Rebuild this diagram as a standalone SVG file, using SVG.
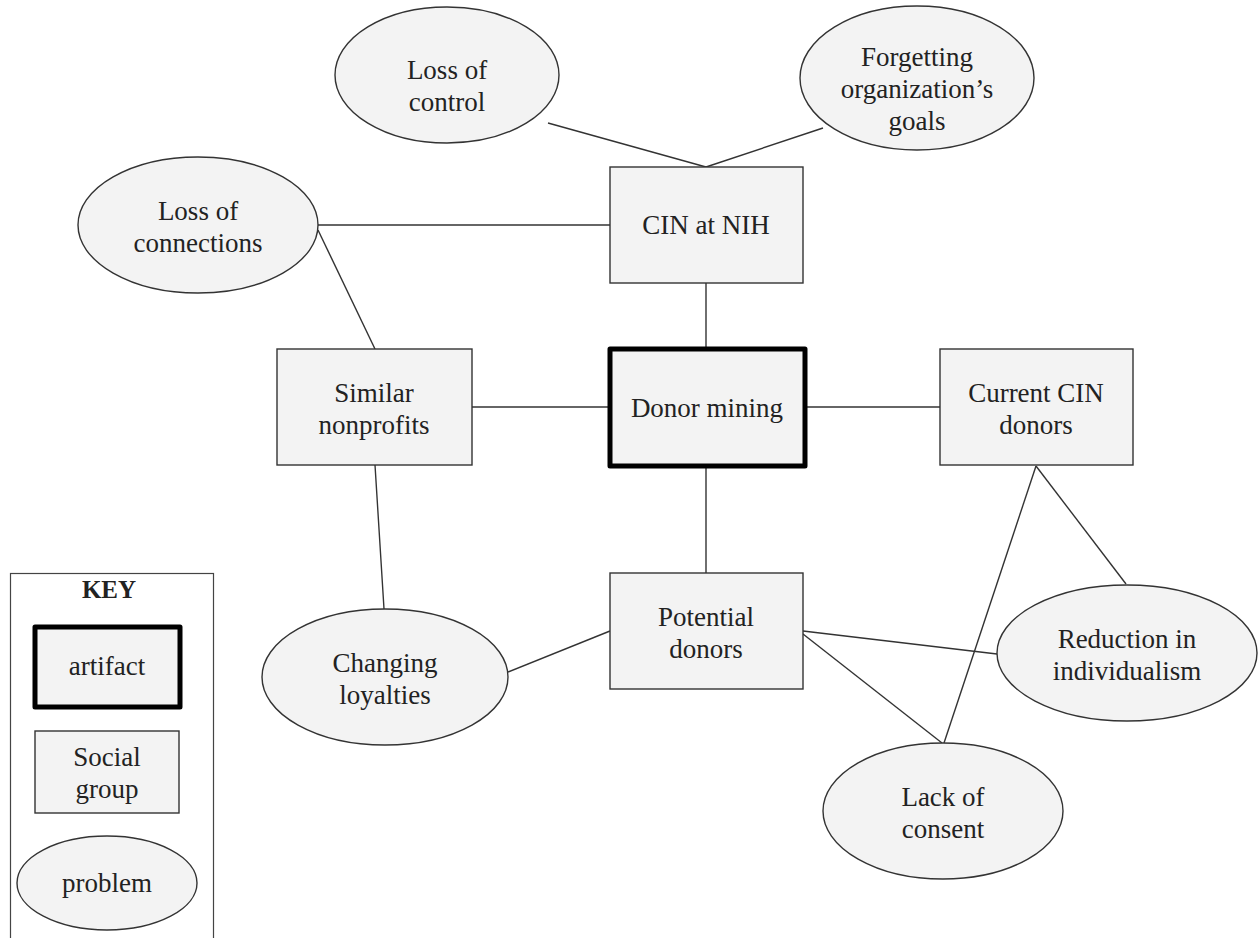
<svg xmlns="http://www.w3.org/2000/svg" width="1259" height="938" viewBox="0 0 1259 938">
<style>
.n{fill:#f3f3f3;stroke:#333;stroke-width:1.4}
.a{fill:#f3f3f3;stroke:#000;stroke-width:5;stroke-linejoin:round}
.c line{stroke:#333;stroke-width:1.4}
text{font-family:"Liberation Serif","Times New Roman",serif;font-size:27px;fill:#222;text-anchor:middle}
.k{font-weight:bold;font-size:25px}
</style>
<rect width="1259" height="938" fill="#fff"/>
<g class="c" id="connectors">
<line x1="548" y1="123" x2="706" y2="167"/>
<line x1="823" y1="128" x2="706" y2="167"/>
<line x1="318" y1="225" x2="610" y2="225"/>
<line x1="318" y1="230" x2="375" y2="349"/>
<line x1="706" y1="283" x2="706" y2="348"/>
<line x1="472" y1="407" x2="610" y2="407"/>
<line x1="805" y1="407" x2="940" y2="407"/>
<line x1="706" y1="466" x2="706" y2="573"/>
<line x1="375" y1="465" x2="384" y2="609"/>
<line x1="508" y1="672" x2="610" y2="631"/>
<line x1="803" y1="631" x2="997" y2="654"/>
<line x1="803" y1="634" x2="942" y2="743"/>
<line x1="1036" y1="466" x2="944" y2="743"/>
<line x1="1036" y1="466" x2="1126" y2="584"/>
</g>
<g id="loss-of-control"><ellipse class="n" cx="447" cy="75" rx="112" ry="68"/><text x="447" y="79">Loss of</text><text x="447" y="111">control</text></g>
<g id="forgetting-goals"><ellipse class="n" cx="917" cy="78" rx="117" ry="72"/><text x="917" y="66">Forgetting</text><text x="917" y="98">organization’s</text><text x="917" y="130">goals</text></g>
<g id="loss-of-connections"><ellipse class="n" cx="198" cy="225" rx="120" ry="68"/><text x="198" y="220">Loss of</text><text x="198" y="252">connections</text></g>
<g id="cin-at-nih"><rect class="n" x="610" y="167" width="193" height="116"/><text x="706" y="234">CIN at NIH</text></g>
<g id="donor-mining"><rect class="a" x="610" y="349" width="195" height="117"/><text x="707" y="417">Donor mining</text></g>
<g id="similar-nonprofits"><rect class="n" x="277" y="349" width="195" height="116"/><text x="374" y="402">Similar</text><text x="374" y="434">nonprofits</text></g>
<g id="current-cin-donors"><rect class="n" x="940" y="349" width="193" height="116"/><text x="1036" y="402">Current CIN</text><text x="1036" y="434">donors</text></g>
<g id="potential-donors"><rect class="n" x="610" y="573" width="193" height="116"/><text x="706" y="626">Potential</text><text x="706" y="658">donors</text></g>
<g id="changing-loyalties"><ellipse class="n" cx="385" cy="677" rx="123" ry="68"/><text x="385" y="672">Changing</text><text x="385" y="704">loyalties</text></g>
<g id="reduction-individualism"><ellipse class="n" cx="1127" cy="653" rx="130" ry="68"/><text x="1127" y="648">Reduction in</text><text x="1127" y="680">individualism</text></g>
<g id="lack-of-consent"><ellipse class="n" cx="943" cy="811" rx="120" ry="68"/><text x="943" y="806">Lack of</text><text x="943" y="838">consent</text></g>
<g id="key">
<rect x="10.5" y="573.5" width="203" height="380" fill="#fff" stroke="#444" stroke-width="1.2"/>
<text class="k" x="109" y="598">KEY</text>
<rect class="a" x="35" y="627" width="145" height="80"/><text x="107" y="675">artifact</text>
<rect class="n" x="35" y="731" width="144" height="82"/><text x="107" y="766">Social</text><text x="107" y="798">group</text>
<ellipse class="n" cx="107" cy="883" rx="90" ry="47"/><text x="107" y="892">problem</text>
</g>
</svg>
